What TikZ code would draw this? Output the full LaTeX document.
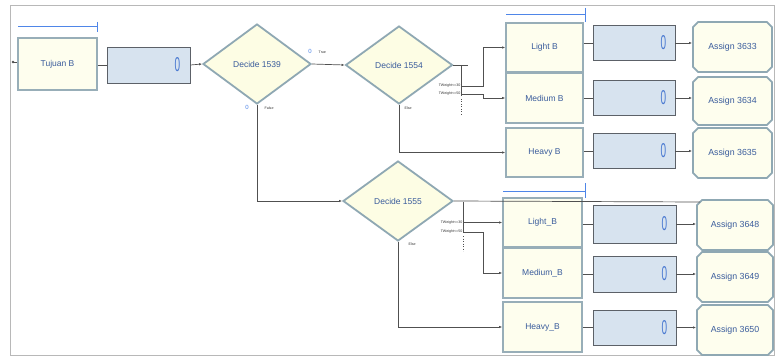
\documentclass[tikz,border=0pt]{standalone}
\usepackage{fontspec}
\setmainfont{Liberation Sans}
\usetikzlibrary{shapes.geometric,shapes.misc,arrows.meta,calc}
\definecolor{entfill}{HTML}{FEFEEE}
\definecolor{entdraw}{HTML}{98AEB8}
\definecolor{holdfill}{HTML}{D7E3EF}
\definecolor{holddraw}{HTML}{5C6168}
\definecolor{decfill}{HTML}{FDFDE4}
\definecolor{decdraw}{HTML}{8FA8B3}
\definecolor{txtblue}{HTML}{3A5C9C}
\definecolor{conn}{HTML}{505050}
\definecolor{frame}{HTML}{B8B8B8}
\definecolor{markblue}{HTML}{4F86E8}
\newcommand{\qz}{\scalebox{0.5}[1]{\fontsize{20}{20}\selectfont 0}}
\tikzset{
  entbox/.style={rectangle, draw=entdraw, line width=1.6pt, fill=entfill, inner sep=0pt,
    text=txtblue, font=\fontsize{8.5}{9}\selectfont},
  holdbox/.style={rectangle, draw=holddraw, line width=0.7pt, fill=holdfill, inner sep=0pt},
  decbox/.style={diamond, draw=decdraw, line width=1.8pt, fill=decfill, inner sep=0pt,
    text=txtblue, font=\fontsize{8.5}{9}\selectfont},
  asgbox/.style={chamfered rectangle, chamfered rectangle xsep=2.6pt, chamfered rectangle ysep=2.6pt,
    draw=decdraw, line width=1.8pt, fill=entfill, inner sep=0pt,
    text=txtblue, font=\fontsize{8.8}{9}\selectfont},
  qzero/.style={text=markblue!70!txtblue, inner sep=0pt},
  tinylbl/.style={font=\fontsize{3.6}{4}\selectfont, text=black!80, inner sep=0.5pt},
  portzero/.style={font=\fontsize{6}{6}\selectfont, text=markblue, inner sep=0pt},
  cn/.style={draw=conn, line width=0.7pt},
  ca/.style={cn, -{Latex[length=3pt,width=2.4pt]}},
  bluemark/.style={color=markblue, line width=1pt}
}
\begin{document}
\begin{tikzpicture}[x=1pt,y=-1pt]
\useasboundingbox (0,0) rectangle (775,358);
\fill[white] (0,0) rectangle (775,358);
\draw[frame, line width=0.8pt] (10,5) rectangle (774,355);

% top flow
\node[entbox, minimum width=79pt, minimum height=52pt] (tuj) at (57.5,64) {Tujuan B};
\node[holdbox, minimum width=83pt, minimum height=36pt] (h0) at (148.5,65) {};
\node[qzero] at ($(h0.east)+(-13,0)$) {\qz};
\node[decbox, minimum width=108pt, minimum height=80pt] (d1) at (257,64) {Decide 1539};
\node[decbox, minimum width=107pt, minimum height=78pt] (d2) at (399,65) {Decide 1554};
\node[decbox, minimum width=110pt, minimum height=80pt] (d3) at (398,201) {Decide 1555};

% right column, upper group
\node[entbox, minimum width=77pt, minimum height=49pt] (lb) at (544.5,47.5) {Light B};
\node[entbox, minimum width=77pt, minimum height=50pt] (mb) at (544.5,98) {Medium B};
\node[entbox, minimum width=77pt, minimum height=49pt] (hb) at (544.5,152.5) {Heavy B};
\node[holdbox, minimum width=82pt, minimum height=35pt] (h1) at (634,43) {};
\node[holdbox, minimum width=82pt, minimum height=35pt] (h2) at (634,98) {};
\node[holdbox, minimum width=82pt, minimum height=35pt] (h3) at (634,151) {};
\node[asgbox, minimum width=79pt, minimum height=50pt] (a1) at (732.5,47) {Assign 3633};
\node[asgbox, minimum width=79pt, minimum height=48pt] (a2) at (732.5,101) {Assign 3634};
\node[asgbox, minimum width=79pt, minimum height=50pt] (a3) at (732.5,153) {Assign 3635};

% right column, lower group
\node[entbox, minimum width=79pt, minimum height=49pt] (lb2) at (542.5,222.5) {Light\_B};
\node[entbox, minimum width=79pt, minimum height=50pt] (mb2) at (542.5,273) {Medium\_B};
\node[entbox, minimum width=79pt, minimum height=50pt] (hb2) at (542.5,327) {Heavy\_B};
\node[holdbox, minimum width=83pt, minimum height=38pt] (h4) at (634.5,224) {};
\node[holdbox, minimum width=83pt, minimum height=36pt] (h5) at (634.5,274) {};
\node[holdbox, minimum width=83pt, minimum height=35pt] (h6) at (634.5,327.5) {};
\node[asgbox, minimum width=76pt, minimum height=50pt] (a4) at (735,225) {Assign 3648};
\node[asgbox, minimum width=76pt, minimum height=50pt] (a5) at (735,277) {Assign 3649};
\node[asgbox, minimum width=76pt, minimum height=50pt] (a6) at (735,330) {Assign 3650};

\foreach \h in {h1,h2,h3,h4,h5,h6}{\node[qzero] at ($(\h.east)+(-12,0)$) {\qz};}

% blue marker lines
\draw[bluemark] (18,27) -- (97,27) (97,22) -- (97,32);
\draw[bluemark] (506,15) -- (585,15) (585,8) -- (585,22);
\draw[bluemark] (503,191) -- (585,191) (585,183) -- (585,198);

% connectors, top part
\coordinate (in0) at (13,62);
\fill[conn] (in0) circle (1.3pt);
\draw[cn] (in0) -- (tuj.west |- in0);
\draw[cn] (tuj.east |- h0) -- (h0.west);
\draw[ca] (h0.east) -- (d1.west);
\draw[ca] (d1.east) -- (d2.west);
\draw[ca] (d1.south) |- (d3.west);
\node[portzero] at (310,51) {0};
\node[tinylbl, anchor=west] at (318,52) {True};
\node[portzero] at (247,107) {0};
\node[tinylbl, anchor=west] at (264,108) {False};

% Decide 1554 exits
\coordinate (p1) at (461,65);
\coordinate (p2) at (461,96);
\draw[cn] (d2.east) -- (468,65);
\draw[cn] (p1) -- (p2);
\draw[ca] (461,86) -- (483,86) |- (lb.west);
\draw[ca] (461,94) -- (483,94) |- (mb.west);
\draw[conn, line width=0.5pt, dotted] (461,99) -- (461,116);
\node[tinylbl, anchor=east] at (461,86) {TWeight<=30};
\node[tinylbl, anchor=east] at (461,94) {TWeight<=50};
\draw[ca] (d2.south) |- (hb.west);
\node[tinylbl, anchor=west] at (404,108) {Else};

\draw[cn] (lb.east |- h1) -- (h1.west);
\draw[cn] (mb.east |- h2) -- (h2.west);
\draw[cn] (hb.east |- h3) -- (h3.west);
\draw[ca] (h1.east) -- (a1.west |- h1);
\draw[ca] (h2.east) -- (a2.west |- h2);
\draw[ca] (h3.east) -- (a3.west |- h3);

% Decide 1555 exits
\coordinate (q1) at (463,202);
\coordinate (q2) at (463,233);
\draw[cn] (d3.east) -- (700,202);
\draw[cn] (q1) -- (q2);
\draw[ca] (463,222.5) -- (lb2.west);
\draw[ca] (463,232) -- (483,232) |- (mb2.west);
\draw[conn, line width=0.5pt, dotted] (463,236) -- (463,251);
\node[tinylbl, anchor=east] at (463,223) {TWeight<=30};
\node[tinylbl, anchor=east] at (463,232) {TWeight<=50};
\draw[ca] (d3.south) |- (hb2.west);
\node[tinylbl, anchor=west] at (408,244) {Else};

\draw[cn] (lb2.east |- h4) -- (h4.west);
\draw[cn] (mb2.east |- h5) -- (h5.west);
\draw[cn] (hb2.east |- h6) -- (h6.west);
\draw[ca] (h4.east) -- (a4.west |- h4);
\draw[ca] (h5.east) -- (a5.west |- h5);
\draw[ca] (h6.east) -- (a6.west |- h6);
\end{tikzpicture}
\end{document}
